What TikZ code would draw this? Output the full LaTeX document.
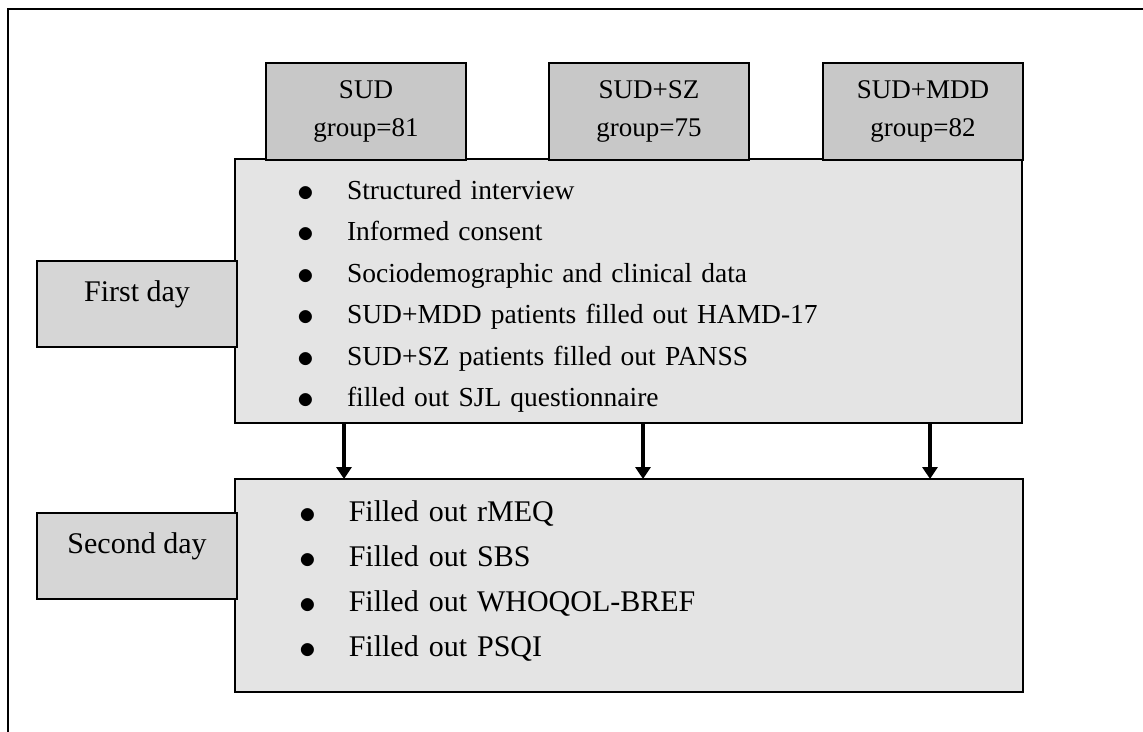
\documentclass[tikz,border=0pt]{standalone}
\usepackage{fontspec}
\setmainfont{Liberation Serif}
\usepackage{xcolor}
\usepackage{graphicx}
\usetikzlibrary{arrows.meta}
\definecolor{grpgray}{gray}{0.784}
\definecolor{daygray}{gray}{0.84}
\definecolor{listgray}{gray}{0.894}
\newcommand{\itm}{\makebox[45pt][l]{\hspace{-4.5pt}\raisebox{-1.7pt}{\scalebox{1.35}{$\bullet$}}}}

\begin{document}
\begin{tikzpicture}[x=1pt,y=-1pt,>=Stealth,
  grpbox/.style={draw,line width=1.8pt,fill=grpgray,minimum width=200pt,minimum height=97pt,
    anchor=north west,outer sep=0pt,align=center,font=\fontsize{27}{37.3}\selectfont},
  daybox/.style={draw,line width=1.8pt,fill=daygray,minimum width=200pt,minimum height=86pt,
    anchor=north west,outer sep=0pt,font=\fontsize{30}{36}\selectfont,text height=21pt,text depth=26pt},
  listbox/.style={draw,line width=1.8pt,fill=listgray,anchor=north west,outer sep=0pt,
    align=left,inner ysep=0pt},
  flow/.style={-{Triangle[width=15pt,length=12pt]},line width=3.8pt}]
  \useasboundingbox (0,0) rectangle (1143,731);
  \draw[line width=2.2pt] (8,760)--(8,9)--(1170,9);
  % the two days
  \node[listbox,minimum width=787pt,minimum height=264pt,text width=653pt,inner xsep=67pt,
    font=\fontsize{27.5}{41.5}\selectfont] (dayone) at (235,159)
    {\rule{0pt}{34.1pt}\itm Structured interview\\
     \itm Informed consent\\
     \itm Sociodemographic and clinical data\\
     \itm SUD+MDD patients filled out HAMD-17\\
     \itm SUD+SZ patients filled out PANSS\\
     \itm filled out SJL questionnaire\rule[-10pt]{0pt}{10pt}};
  \node[listbox,minimum width=788pt,minimum height=213pt,text width=650.5pt,inner xsep=68.75pt,
    font=\fontsize{30}{45}\selectfont] (daytwo) at (235,479)
    {\rule{0pt}{21.4pt}\itm Filled out rMEQ\\
     \itm Filled out SBS\\
     \itm Filled out WHOQOL-BREF\\
     \itm Filled out PSQI\rule[-14pt]{0pt}{14pt}};
  % groups
  \node[grpbox] (sud) at (266,63) {SUD\\group=81};
  \node[grpbox] (sudsz) at (549,63) {SUD+SZ\\group=75};
  \node[grpbox] (sudmdd) at (823,63) {SUD+MDD\\group=82};
  % day labels
  \node[daybox] (firstday) at (37,261) {First day};
  \node[daybox] (secondday) at (37,513) {Second day};
  \foreach \x in {109,408,695}
    \draw[flow] ([xshift=\x pt]dayone.south west)--([xshift=\x pt]daytwo.north west);
\end{tikzpicture}
\end{document}
